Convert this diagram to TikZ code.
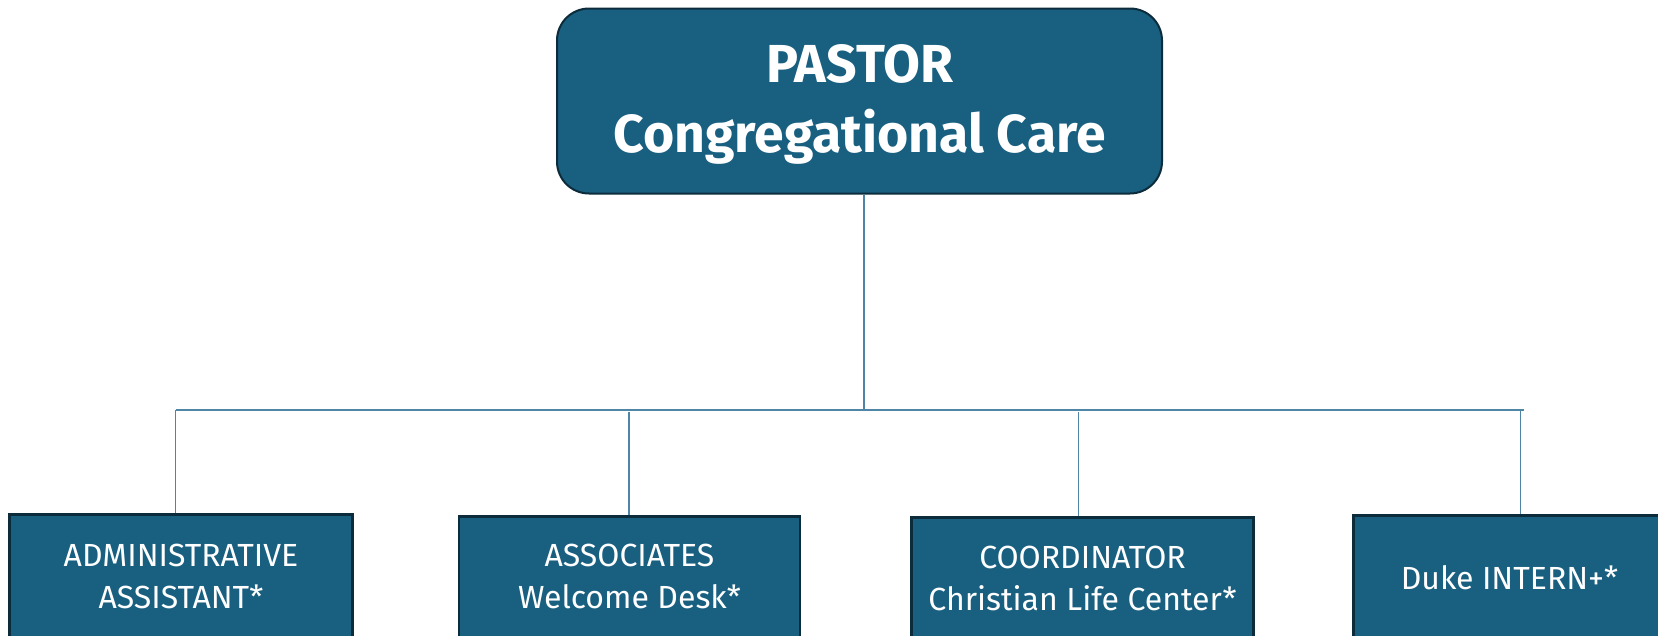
\documentclass[tikz,border=0pt]{standalone}
\usepackage{fontspec}
\setmainfont{Fira Sans}
\definecolor{boxfill}{HTML}{185F80}
\definecolor{boxedge}{HTML}{0D2C3B}
\definecolor{linkcol}{HTML}{4F86A8}
\newcommand{\shiftline}[2]{\raisebox{#1}[\height][\depth]{#2}}
\begin{document}
\begin{tikzpicture}[x=1pt,y=-1pt,
  topbox/.style={draw=boxedge,line width=2pt,fill=boxfill,rounded corners=32pt,
    minimum width=605pt,minimum height=185pt,text=white,align=center,
    font=\fontsize{53.5}{70}\selectfont\bfseries,inner sep=0pt},
  staffbox/.style={draw=boxedge,line width=2.5pt,fill=boxfill,minimum width=343pt,
    minimum height=124pt,text=white,align=center,
    font=\fontsize{32}{42}\selectfont,inner sep=0pt},
  link/.style={draw=linkcol,line width=1.4pt}]
\useasboundingbox (0,0) rectangle (1658,635);
\clip (0,0) rectangle (1658,635);
\fill[white] (0,0) rectangle (1658,635);
\node[topbox] (pastor) at (859.5,101) {\shiftline{-3pt}{PASTOR}\\\shiftline{-3pt}{Congregational Care}};
\node[staffbox,anchor=north] (admin) at (181,513) {ADMINISTRATIVE\\ASSISTANT*};
\node[staffbox,anchor=north,minimum width=341pt] (assoc) at (629.5,515) {\shiftline{2pt}{ASSOCIATES}\\\shiftline{2pt}{Welcome Desk*}};
\node[staffbox,anchor=north,minimum width=342pt] (coord) at (1082.5,516) {\shiftline{1pt}{COORDINATOR}\\\shiftline{1pt}{Christian Life Center*}};
\node[staffbox,anchor=north,minimum width=312pt] (duke) at (1509.5,514) {Duke INTERN+*};
\coordinate (bus) at (864,410);
\coordinate (busL) at (175.5,410);
\coordinate (busR) at (1524,410);
\coordinate (d1) at (175.5,410);
\coordinate (d2) at (629,412);
\coordinate (d3) at (1078.5,412);
\coordinate (d4) at (1520.5,410);
\draw[link] (pastor.south -| bus) -- (bus);
\draw[link] (busL) -- (busR);
\draw[link] (d1) -- (d1 |- admin.north);
\draw[link] (d2) -- (d2 |- assoc.north);
\draw[link] (d3) -- (d3 |- coord.north);
\draw[link] (d4) -- (d4 |- duke.north);
\end{tikzpicture}
\end{document}
